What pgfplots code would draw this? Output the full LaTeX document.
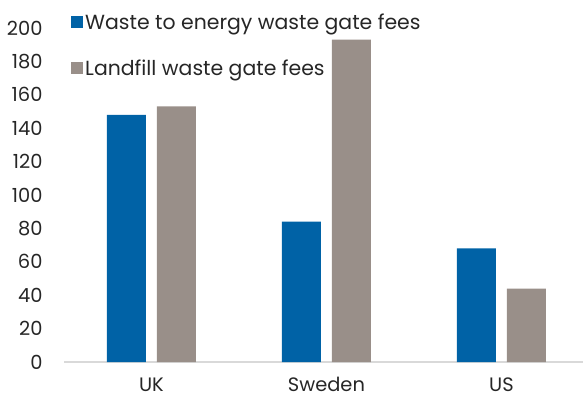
\documentclass[border=0pt]{standalone}
\usepackage{pgfplots}
\pgfplotsset{compat=1.18}
\usepackage{fontspec}
\setmainfont{Poppins}
\definecolor{wteblue}{RGB}{0,98,166}
\definecolor{lfgray}{RGB}{153,143,137}
\definecolor{axgray}{RGB}{217,217,217}
\begin{document}
\begin{tikzpicture}
\begin{axis}[
  at={(64bp,39bp)}, anchor=south west,
  scale only axis,
  width=519bp, height=334bp,
  xmin=-0.5, xmax=2.466,
  ymin=0, ymax=200,
  ytick={0,20,...,200},
  xtick=data,
  xticklabels={UK,Sweden,US},
  axis x line*=bottom,
  axis y line*=left,
  y axis line style={draw=none},
  x axis line style={draw=axgray, line width=1.5bp, -},
  major tick length=0pt,
  ticklabel style={font=\fontsize{19.5}{22}\selectfont, text=black!85},
  /pgf/number format/assume math mode=true,
  yticklabel style={anchor=east, xshift=-18bp},
  xticklabel style={yshift=-12bp},
  ybar, bar width=39bp,
  legend style={at={(0.0135,1.05)}, anchor=north west, draw=none, fill=none,
    inner sep=0pt, font=\fontsize{20.5}{23}\selectfont, text=black!85,
    row sep=25bp, cells={anchor=west}},
  legend cell align=left,
]
\addplot[fill=wteblue, draw=none, bar shift=-25bp,
  legend image code/.code={\fill[wteblue] (0bp,-6bp) rectangle (12bp,6bp);}]
  coordinates {(0,148) (1,84) (2,68)};
\addplot[fill=lfgray, draw=none, bar shift=25bp,
  legend image code/.code={\fill[lfgray] (0bp,-6bp) rectangle (12bp,6bp);}]
  coordinates {(0,153) (1,193) (2,44)};
\legend{Waste to energy waste gate fees, Landfill waste gate fees}
\end{axis}
\pgfresetboundingbox
\path (0,0) rectangle (583bp,401bp);
\end{tikzpicture}
\end{document}
